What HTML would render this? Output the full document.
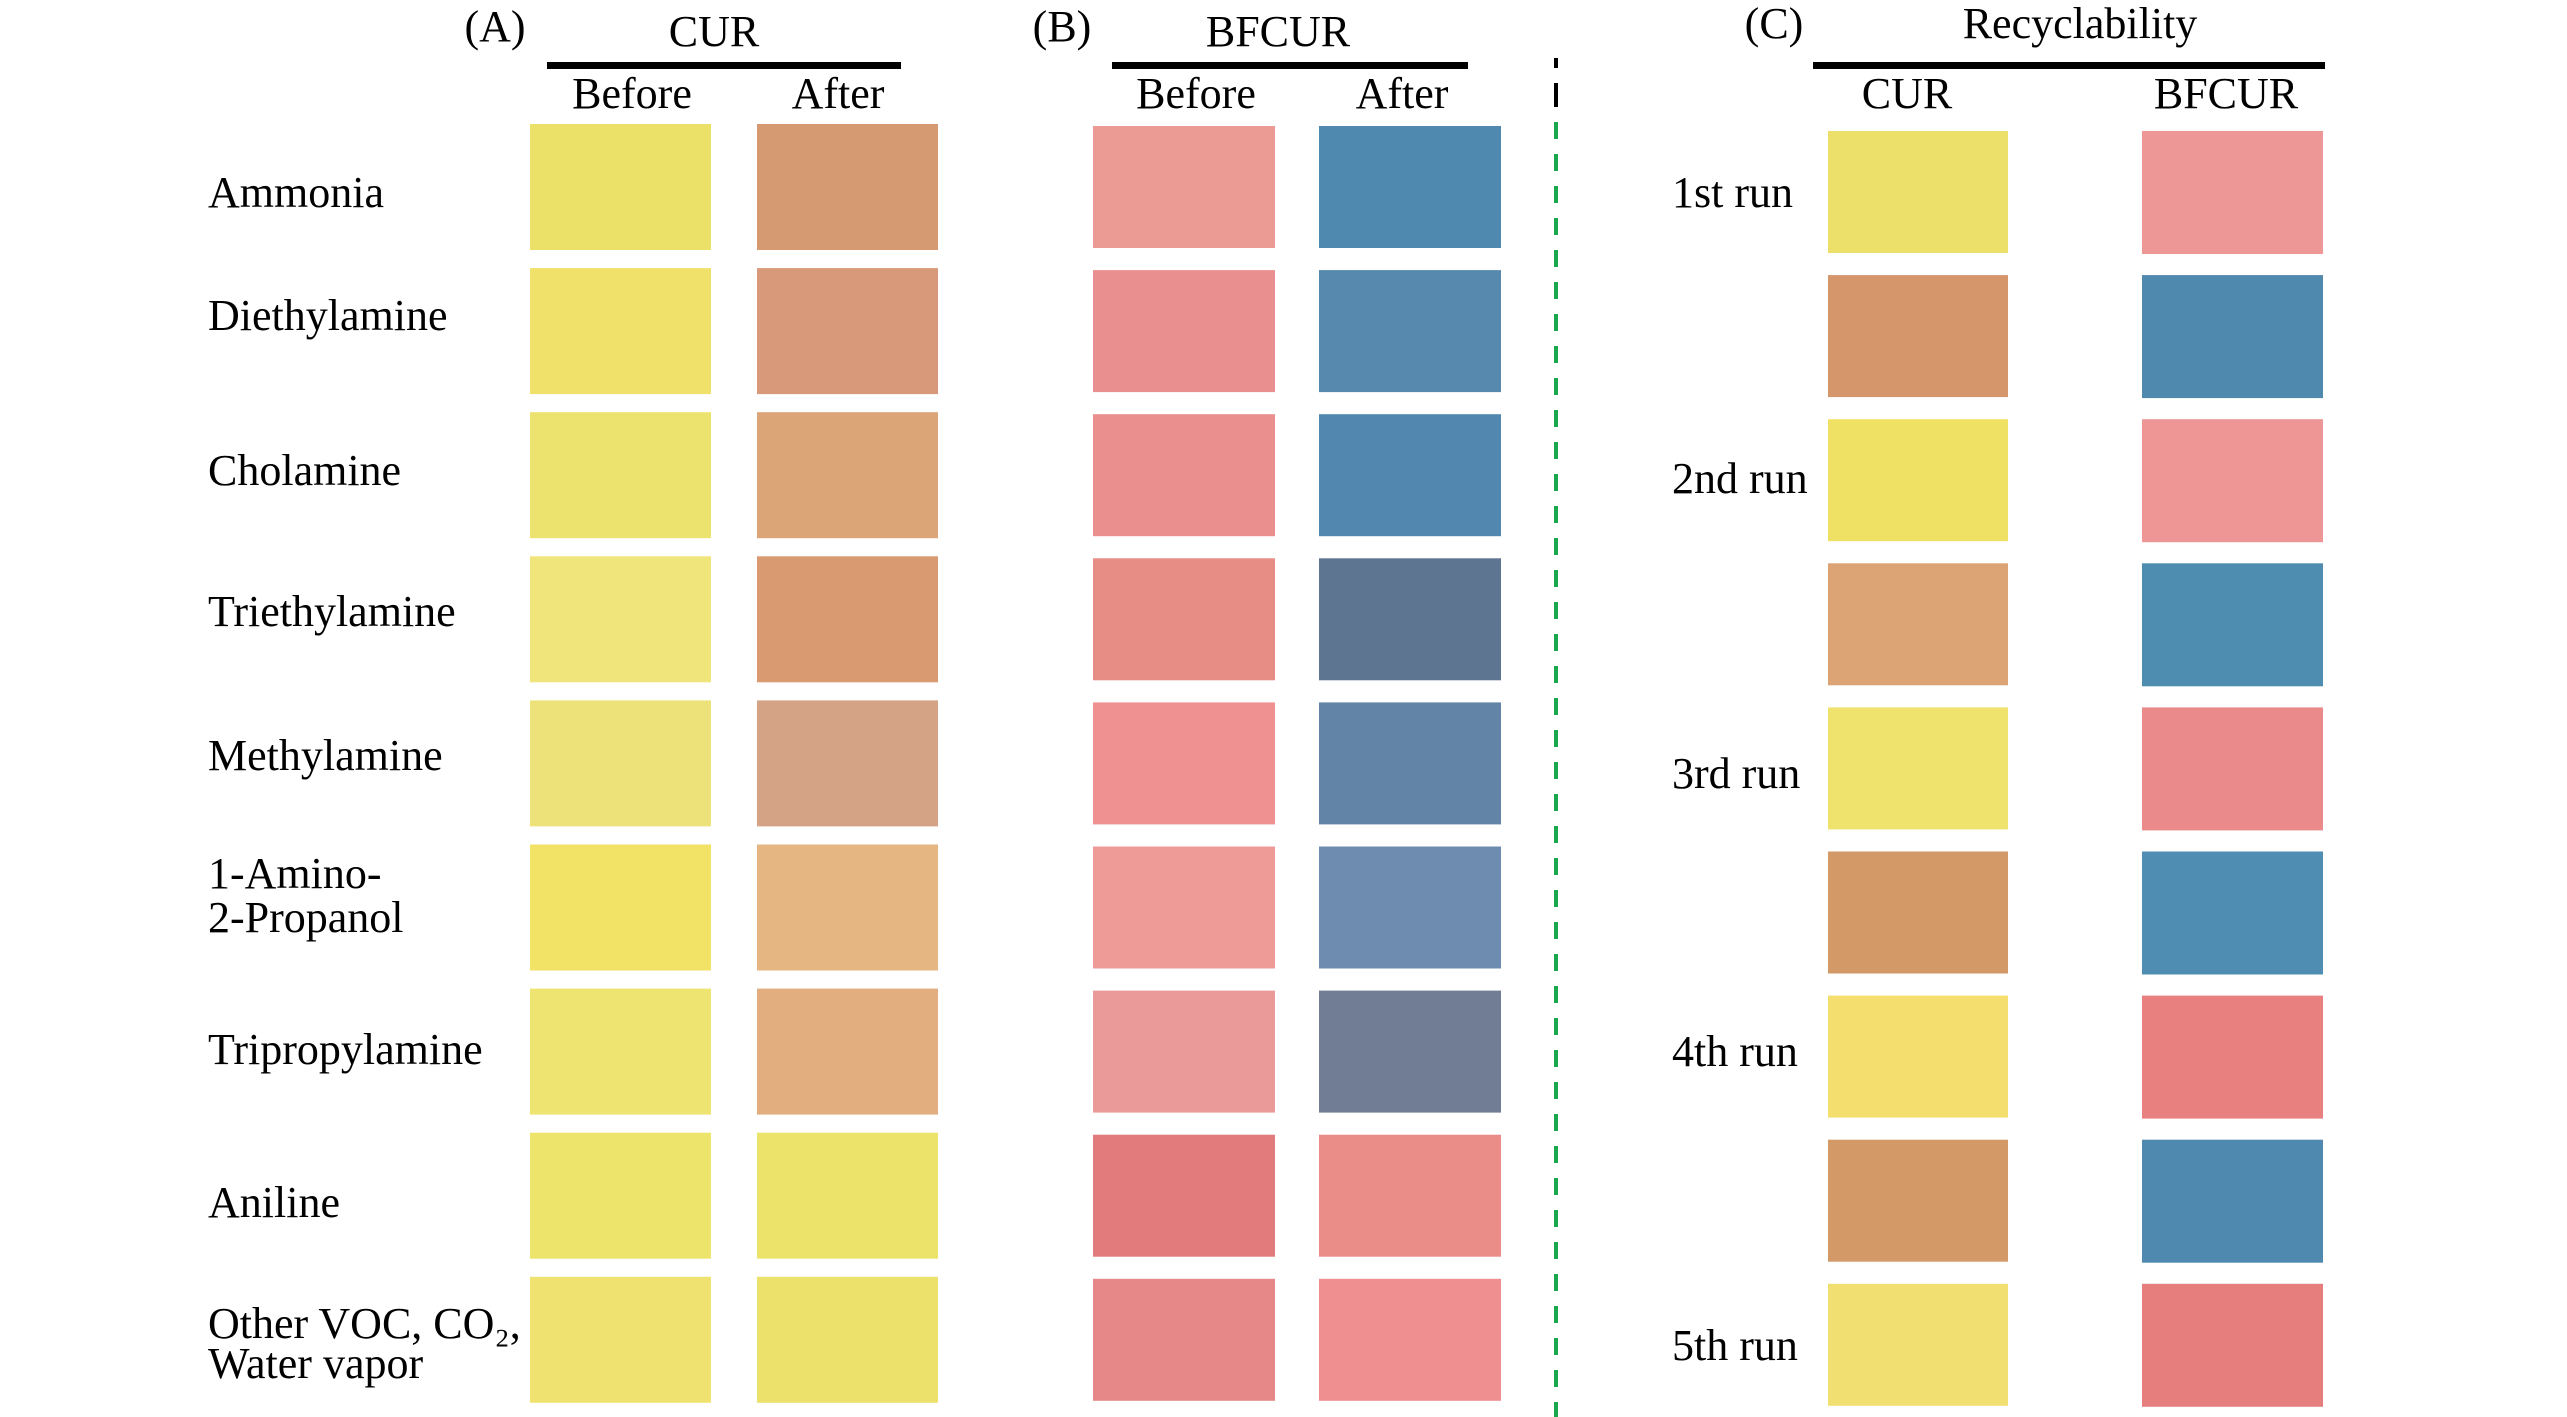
<!DOCTYPE html>
<html><head><meta charset="utf-8"><style>
html,body{margin:0;padding:0;background:#fff;width:2567px;height:1417px;overflow:hidden}
svg text{font-family:"Liberation Serif",serif;font-size:44px;fill:#000}
</style></head><body>
<svg id="fig" width="2567" height="1417" viewBox="0 0 2567 1417" xmlns="http://www.w3.org/2000/svg">
<g>
<text x="495" y="41" text-anchor="middle">(A)</text>
<text x="714" y="46" text-anchor="middle">CUR</text>
<rect x="547" y="62" width="354" height="7" fill="#000"/>
<text x="632" y="108" text-anchor="middle">Before</text>
<text x="838" y="108" text-anchor="middle">After</text>
<text x="1062" y="41" text-anchor="middle">(B)</text>
<text x="1278" y="46" text-anchor="middle">BFCUR</text>
<rect x="1112" y="62" width="356" height="7" fill="#000"/>
<text x="1196" y="108" text-anchor="middle">Before</text>
<text x="1402" y="108" text-anchor="middle">After</text>
<text x="1774" y="38" text-anchor="middle">(C)</text>
<text x="2080" y="38" text-anchor="middle">Recyclability</text>
<rect x="1813" y="62" width="512" height="7" fill="#000"/>
<text x="1907" y="108" text-anchor="middle">CUR</text>
<text x="2226" y="108" text-anchor="middle">BFCUR</text>
<rect x="1554" y="58" width="4" height="10" fill="#000"/>
<rect x="1554" y="83" width="4" height="24" fill="#000"/>
<line x1="1556" y1="122" x2="1556" y2="1417" stroke="#1aa84f" stroke-width="4" stroke-dasharray="17 15"/>
</g>
<g id="swatches"></g>
<g id="labels"></g>
</svg>
<script>
const gases = ["Ammonia","Diethylamine","Cholamine","Triethylamine","Methylamine","1-Amino-|2-Propanol","Tripropylamine","Aniline","Other VOC, CO₂,|Water vapor"];
const curBefore = ["#ebe068","#f0e16a","#ece36e","#efe57a","#ede27a","#f2e265","#eee472","#ede46c","#efe270"];
const curAfter  = ["#d59a72","#d8997a","#dca578","#d99a72","#d4a385","#e6b682","#e2ae7f","#ece36a","#ebe16b"];
const bfBefore  = ["#eb9a94","#ea8f8f","#ea8e8e","#e88c86","#ef9191","#ee9b98","#ea9a98","#e27c7c","#e68888"];
const bfAfter   = ["#4f89b0","#5789ae","#5288b0","#5e7592","#6284a6","#6d8cb0","#707d94","#ea8d88","#ef8f90"];
const runs = ["1st run","","2nd run","","3rd run","","4th run","","5th run"];
const recCur   = ["#ece06a","#d5966c","#efe164","#dca474","#efe36e","#d39a68","#f4df6e","#d39a68","#f2df72"];
const recBf    = ["#ee9797","#4f89ad","#ee9696","#4f8db0","#ea8a8a","#4f8eb2","#e88080","#4f89b0","#e67e7e"];
const labelBase = [207,330,485,626,770,[888,932],1064,1217,[1338,1378]];
const runBase = [207,0,493,0,788,0,1066,0,1360];

const NS="http://www.w3.org/2000/svg";
const sw=document.getElementById('swatches'), lb=document.getElementById('labels');
const rowTop=i=>124+i*144.1, recTop=i=>131+i*144.1;
function rect(x,y,w,h,c,name){
  const r=document.createElementNS(NS,'rect');
  r.setAttribute('x',x);r.setAttribute('y',y);r.setAttribute('width',w);r.setAttribute('height',h);r.setAttribute('fill',c);
  
  
  sw.appendChild(r);
}
function txt(x,y,s,name){
  const t=document.createElementNS(NS,'text');
  t.setAttribute('x',x);t.setAttribute('y',y);t.textContent=s;
  
  
  lb.appendChild(t);
}
gases.forEach((g,i)=>{
  const y=rowTop(i);
  rect(530,y,181,126,curBefore[i],'cur-before-swatch');
  rect(757,y,181,126,curAfter[i],'cur-after-swatch');
  rect(1093,y+2,182,122,bfBefore[i],'bfcur-before-swatch');
  rect(1319,y+2,182,122,bfAfter[i],'bfcur-after-swatch');
  const parts=g.split('|'), b=labelBase[i];
  if(parts.length===1) txt(208,b,parts[0],'gas-label');
  else parts.forEach((p,k)=>txt(208,b[k],p,'gas-label'));
});
runs.forEach((r,i)=>{
  const y=recTop(i);
  rect(1828,y,180,122,recCur[i],'recycle-cur-swatch');
  rect(2142,y,181,123,recBf[i],'recycle-bfcur-swatch');
  if(r) txt(1672,runBase[i],r,'run-label');
});
</script>
</body></html>
